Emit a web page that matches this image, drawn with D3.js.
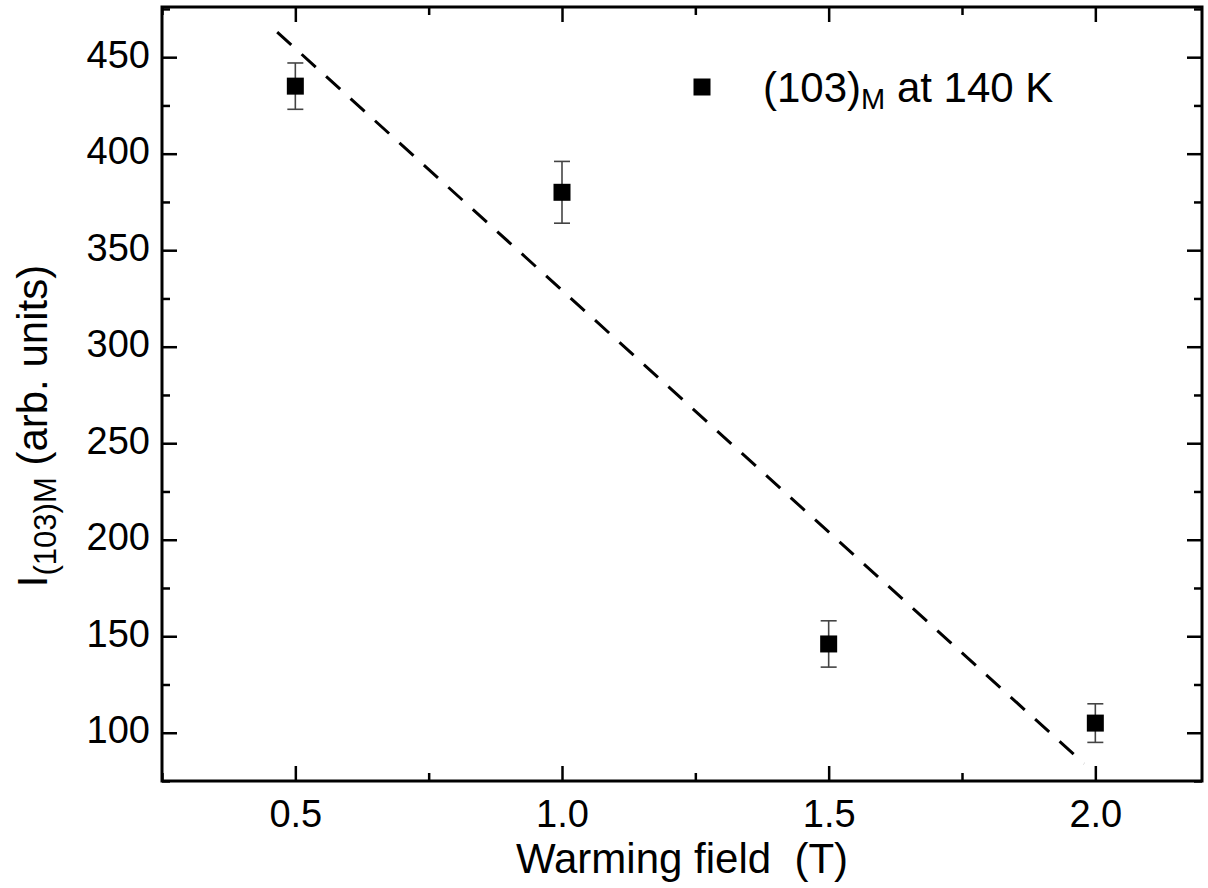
<!DOCTYPE html>
<html>
<head>
<meta charset="utf-8">
<script src="https://cdn.jsdelivr.net/npm/d3@7"></script>
<style>
  html, body { margin: 0; padding: 0; background: #fff; }
  svg { display: block; }
  text { font-family: "Liberation Sans", Arial, Helvetica, sans-serif; fill: #000; white-space: pre; }
</style>
</head>
<body>
<svg id="chart" width="1208" height="888"></svg>
<script>
// ---- data ----
const fields = [0.5, 1.0, 1.5, 2.0];          // Warming field (T)
const intensity = [435, 380, 146, 105];        // I_(103)M (arb. units)
const errors = [12, 16, 12, 10];               // error bar half-widths
const fitX = [0.466, 1.979];                   // dashed guide line end points
const fitY = [463, 84];
const xTicks = [0.5, 1.0, 1.5, 2.0];
const xMinorTicks = [0.25, 0.75, 1.25, 1.75];
const yTicks = [100, 150, 200, 250, 300, 350, 400, 450];
const yMinorTicks = [75, 125, 175, 225, 275, 325, 375, 425, 475];
const xDomain = [0.25, 2.2];
const yDomain = [75, 476];

// ---- layout ----
const W = 1208, H = 888;
const m = { left: 162, top: 7, right: 6, bottom: 107 };
const pw = W - m.left - m.right, ph = H - m.top - m.bottom;

const svg = d3.select("#chart");
const g = svg.append("g").attr("transform", `translate(${m.left},${m.top})`);

const x = d3.scaleLinear().domain(xDomain).range([0, pw]);
const y = d3.scaleLinear().domain(yDomain).range([ph, 0]);

const MAJ = 15, MIN = 8;

function styleAxis(sel, showText) {
  sel.select(".domain").remove();
  sel.selectAll(".tick line").attr("stroke", "#000").attr("stroke-width", 2.5);
  if (!showText) sel.selectAll(".tick text").remove();
}

// bottom
g.append("g").attr("transform", `translate(0,${ph})`)
  .call(d3.axisBottom(x).tickValues(xTicks).tickSize(-MAJ).tickPadding(20).tickFormat(d3.format(".1f")))
  .call(s => { styleAxis(s, true); s.selectAll(".tick text").attr("font-size", 38).attr("dy", "0.71em").attr("y", 19); });
g.append("g").attr("transform", `translate(0,${ph})`)
  .call(d3.axisBottom(x).tickValues(xMinorTicks).tickSize(-MIN).tickFormat(""))
  .call(s => styleAxis(s, false));
// top
g.append("g")
  .call(d3.axisTop(x).tickValues(xTicks).tickSize(-MAJ).tickFormat(""))
  .call(s => styleAxis(s, false));
g.append("g")
  .call(d3.axisTop(x).tickValues(xMinorTicks).tickSize(-MIN).tickFormat(""))
  .call(s => styleAxis(s, false));
// left
g.append("g")
  .call(d3.axisLeft(y).tickValues(yTicks).tickSize(-MAJ).tickPadding(12).tickFormat(d3.format("d")))
  .call(s => { styleAxis(s, true); s.selectAll(".tick text").attr("font-size", 38).attr("dy", null).attr("y", 10).attr("x", -12); });
g.append("g")
  .call(d3.axisLeft(y).tickValues(yMinorTicks.filter(v => v <= yDomain[1])).tickSize(-MIN).tickFormat(""))
  .call(s => styleAxis(s, false));
// right
g.append("g").attr("transform", `translate(${pw},0)`)
  .call(d3.axisRight(y).tickValues(yTicks).tickSize(-MAJ).tickFormat(""))
  .call(s => styleAxis(s, false));
g.append("g").attr("transform", `translate(${pw},0)`)
  .call(d3.axisRight(y).tickValues(yMinorTicks.filter(v => v <= yDomain[1])).tickSize(-MIN).tickFormat(""))
  .call(s => styleAxis(s, false));

// frame
g.append("rect").attr("x", 0).attr("y", 0).attr("width", pw).attr("height", ph)
  .attr("fill", "none").attr("stroke", "#000").attr("stroke-width", 3);

// dashed line
const fitData = fitX.map((v, i) => [v, fitY[i]]);
g.append("path").datum(fitData)
  .attr("d", d3.line().x(d => x(d[0])).y(d => y(d[1])))
  .attr("fill", "none").attr("stroke", "#000").attr("stroke-width", 3)
  .attr("stroke-dasharray", "19,14");

// error bars
const pts = fields.map((f, i) => ({ f, v: intensity[i], e: errors[i] }));
const eb = g.append("g").attr("stroke", "#444").attr("stroke-width", 1.6);
const CAP = 8;
pts.forEach(p => {
  eb.append("line").attr("x1", x(p.f)).attr("x2", x(p.f)).attr("y1", y(p.v - p.e)).attr("y2", y(p.v + p.e));
  eb.append("line").attr("x1", x(p.f) - CAP).attr("x2", x(p.f) + CAP).attr("y1", y(p.v + p.e)).attr("y2", y(p.v + p.e));
  eb.append("line").attr("x1", x(p.f) - CAP).attr("x2", x(p.f) + CAP).attr("y1", y(p.v - p.e)).attr("y2", y(p.v - p.e));
});

// markers
const S = 17;
g.selectAll("rect.pt").data(pts).enter().append("rect").attr("class", "pt")
  .attr("x", d => x(d.f) - S / 2).attr("y", d => y(d.v) - S / 2)
  .attr("width", S).attr("height", S).attr("fill", "#000");

// legend
svg.append("rect").attr("x", 702 - S / 2).attr("y", 87 - S / 2).attr("width", S).attr("height", S).attr("fill", "#000");
const lt = svg.append("text").attr("x", 763).attr("y", 102).attr("font-size", 42);
lt.append("tspan").text("(103)");
lt.append("tspan").attr("font-size", 29).attr("dy", 7).text("M");
lt.append("tspan").attr("dy", -7).text(" at 140 K");

// x axis title
svg.append("text").attr("x", 682).attr("y", 873).attr("text-anchor", "middle")
  .attr("font-size", 42).text("Warming field\u00a0 (T)");

// y axis title
const yt = svg.append("text").attr("transform", "translate(47,426) rotate(-90)")
  .attr("text-anchor", "middle").attr("font-size", 42);
yt.append("tspan").text("I");
yt.append("tspan").attr("font-size", 31).attr("dy", 9).text("(103)M");
yt.append("tspan").attr("dy", -9).text(" (arb. units)");
</script>
</body>
</html>
